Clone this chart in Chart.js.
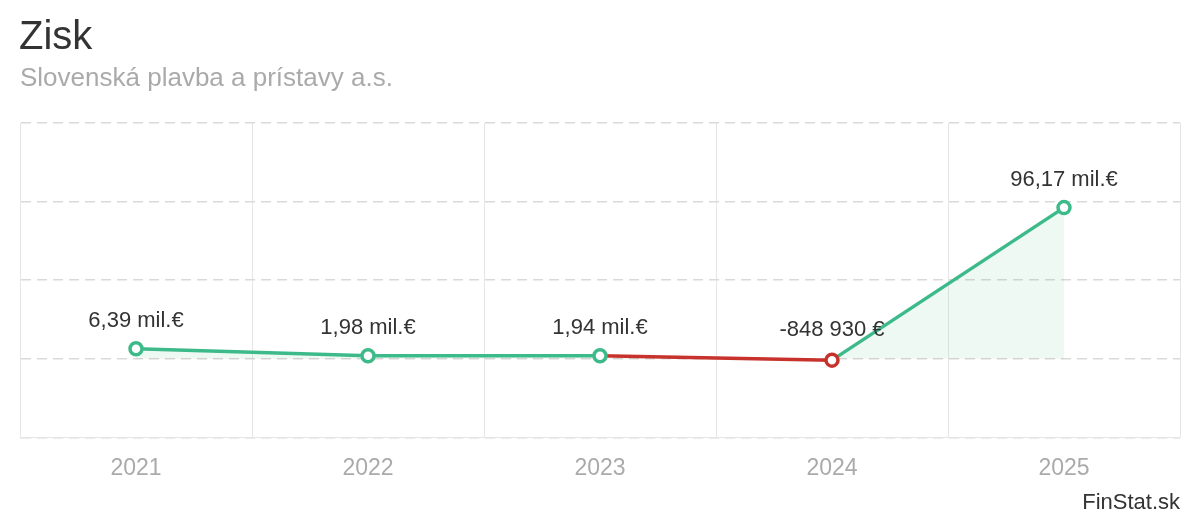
<!DOCTYPE html>
<html>
<head>
<meta charset="utf-8">
<script src="https://cdn.jsdelivr.net/npm/chart.js@4"></script>
<style>
  body { margin: 0; background: #fff; font-family: 'Liberation Sans', Arial, sans-serif; }
  .wrap { position: relative; width: 1200px; height: 520px; overflow: hidden; }
  #title { position: absolute; left: 19px; top: 15px; font-size: 40px; line-height: 1; color: #333; }
  #subtitle { position: absolute; left: 20px; top: 64px; font-size: 26px; line-height: 1; color: #aaa; }
  #brand { position: absolute; right: 20px; top: 491px; font-size: 22px; line-height: 1; color: #333; }
  #chartBox { position: absolute; left: 0; top: 0; width: 1200px; height: 520px; }
</style>
</head>
<body>
<div class="wrap">
  <div id="chartBox"><canvas id="profitChart"></canvas></div>
  <div id="title">Zisk</div>
  <div id="subtitle">Slovenská plavba a prístavy a.s.</div>
  <div id="brand">FinStat.sk</div>
</div>
<script>
// Data
const years = ['2021', '2022', '2023', '2024', '2025'];
const profit = [6390000, 1980000, 1940000, -848930, 96170000];
const yTicks = [-50000000, 0, 50000000, 100000000, 150000000];

const green = '#3dba8a';
const red = '#c8322c';

function formatEur(v) {
  if (Math.abs(v) >= 1000000) {
    return (v / 1000000).toFixed(2).replace('.', ',') + ' mil.€';
  }
  const s = Math.round(Math.abs(v)).toString().replace(/\B(?=(\d{3})+(?!\d))/g, ' ');
  return (v < 0 ? '-' : '') + s + ' €';
}

// Draws value labels above each point
const valueLabels = {
  id: 'valueLabels',
  afterDatasetsDraw(chart) {
    const ctx = chart.ctx;
    const meta = chart.getDatasetMeta(0);
    ctx.save();
    ctx.font = "22px 'Liberation Sans', Arial, sans-serif";
    ctx.fillStyle = '#333';
    ctx.textAlign = 'center';
    ctx.textBaseline = 'middle';
    meta.data.forEach(function (pt, i) {
      const v = profit[i];
      const off = v < 0 ? 30 : 28;
      ctx.fillText(formatEur(v), pt.x, pt.y - off);
    });
    ctx.restore();
  }
};

const ctx = document.getElementById('profitChart').getContext('2d');
new Chart(ctx, {
  type: 'line',
  data: {
    labels: years,
    datasets: [{
      data: profit,
      borderColor: green,
      borderWidth: 3.5,
      tension: 0,
      fill: {
        target: 'origin',
        above: 'rgba(61, 186, 138, 0.09)',
        below: 'rgba(200, 50, 44, 0.09)'
      },
      segment: {
        borderColor: function (c) { return c.p1.parsed.y < 0 ? red : green; }
      },
      pointRadius: 6,
      pointBorderWidth: 3.5,
      pointBackgroundColor: '#fff',
      pointBorderColor: profit.map(v => v < 0 ? red : green)
    }]
  },
  options: {
    responsive: true,
    maintainAspectRatio: false,
    animation: false,
    layout: { padding: { left: 20, right: 20, top: 123, bottom: 21 } },
    plugins: {
      legend: { display: false },
      tooltip: { enabled: false }
    },
    scales: {
      x: {
        offset: true,
        grid: { offset: true, color: '#e6e6e6', lineWidth: 1, drawTicks: false },
        border: { color: '#e6e6e6' },
        ticks: {
          color: '#aaa',
          padding: 17,
          font: { size: 23, family: "'Liberation Sans', Arial, sans-serif" }
        }
      },
      y: {
        min: yTicks[0],
        max: yTicks[yTicks.length - 1],
        afterBuildTicks: function (axis) {
          axis.ticks = yTicks.map(v => ({ value: v }));
        },
        grid: { color: '#d9d9d9', lineWidth: 1.5, drawTicks: false },
        border: { display: true, color: '#e6e6e6', dash: [10, 6] },
        ticks: { display: false }
      }
    }
  },
  plugins: [valueLabels]
});
</script>
</body>
</html>
